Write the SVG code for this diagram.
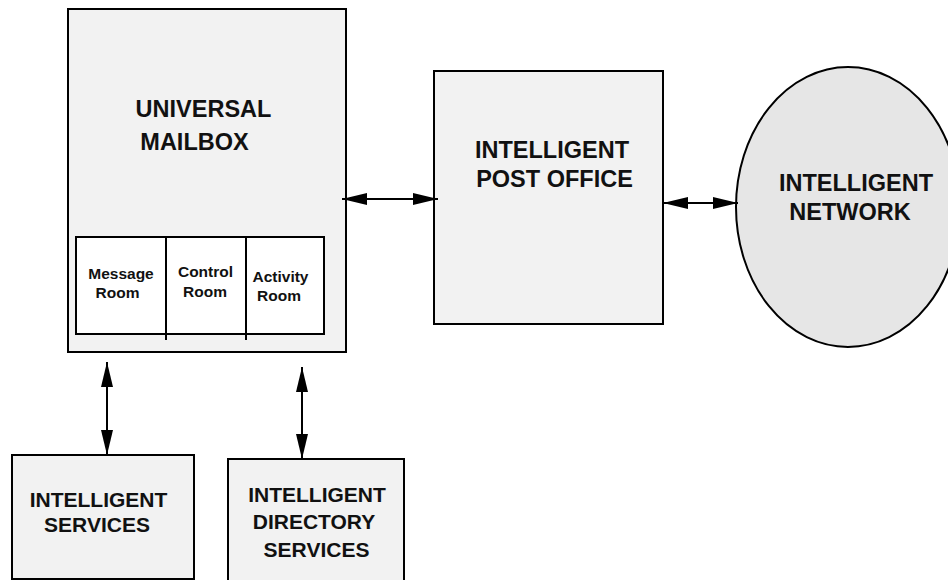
<svg xmlns="http://www.w3.org/2000/svg" width="948" height="580" viewBox="0 0 948 580">
<style>
.box{fill:#f2f2f2;stroke:#000;stroke-width:2}
.inner{fill:#fff;stroke:#000;stroke-width:2}
.ell{fill:#e6e6e6;stroke:#000;stroke-width:2}
.t{font-family:"Liberation Sans",Arial,sans-serif;font-weight:bold;fill:#111;text-anchor:middle}
.big{font-size:23.5px}
.mid{font-size:21px}
.sm{font-size:15.5px}
.conn{stroke:#000;stroke-width:2;fill:none;marker-start:url(#ah);marker-end:url(#ah)}
</style>
<defs>
<marker id="ah" viewBox="0 0 25 12" refX="25" refY="6" markerWidth="25" markerHeight="12" markerUnits="userSpaceOnUse" orient="auto-start-reverse">
<path d="M0,0 L25,6 L0,12 Z" fill="#000"/>
</marker>
</defs>
<rect width="948" height="580" fill="#fff"/>
<g id="mailbox">
<rect class="box" x="68" y="9" width="278" height="343"/>
<text class="t big" x="203.5" y="117">UNIVERSAL</text>
<text class="t big" x="194.5" y="150">MAILBOX</text>
<rect class="inner" x="76" y="237" width="248" height="97"/>
<line x1="166" y1="237" x2="166" y2="340" stroke="#000" stroke-width="2"/>
<line x1="246" y1="237" x2="246" y2="340" stroke="#000" stroke-width="2"/>
<text class="t sm" x="121" y="279">Message</text>
<text class="t sm" x="117.5" y="298">Room</text>
<text class="t sm" x="205.5" y="277">Control</text>
<text class="t sm" x="205" y="297">Room</text>
<text class="t sm" x="280.5" y="282">Activity</text>
<text class="t sm" x="279" y="301">Room</text>
</g>
<g id="postoffice">
<rect class="box" x="434" y="71" width="229" height="253"/>
<text class="t big" x="552" y="158">INTELLIGENT</text>
<text class="t big" x="554.5" y="187">POST OFFICE</text>
</g>
<g id="network">
<ellipse class="ell" cx="848" cy="207" rx="112" ry="140"/>
<text class="t big" x="856" y="191">INTELLIGENT</text>
<text class="t big" x="850" y="220">NETWORK</text>
</g>
<g id="services">
<rect class="box" x="12" y="455" width="182" height="124"/>
<text class="t mid" x="98.5" y="507">INTELLIGENT</text>
<text class="t mid" x="97" y="532">SERVICES</text>
</g>
<g id="directory">
<rect class="box" x="228" y="459" width="176" height="130"/>
<text class="t mid" x="317" y="502">INTELLIGENT</text>
<text class="t mid" x="314" y="529">DIRECTORY</text>
<text class="t mid" x="316.5" y="557">SERVICES</text>
</g>
<g id="connectors">
<line class="conn" x1="342" y1="199" x2="438" y2="199"/>
<line class="conn" x1="663" y1="203" x2="738" y2="203"/>
<line class="conn" x1="107" y1="362" x2="107" y2="455"/>
<line class="conn" x1="302" y1="367" x2="302" y2="459"/>
</g>
</svg>
